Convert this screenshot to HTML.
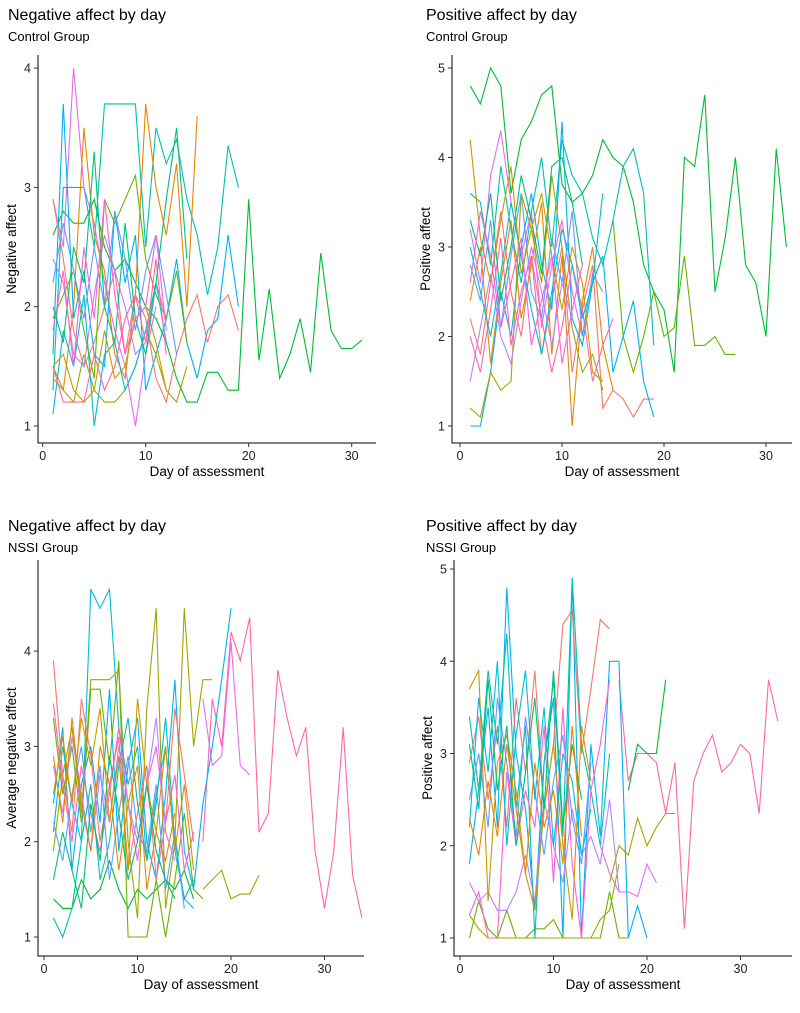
<!DOCTYPE html>
<html><head><meta charset="utf-8"><style>
body{margin:0;background:#fff;font-family:"Liberation Sans",Arial,sans-serif}
svg text{font-family:"Liberation Sans",Arial,sans-serif}
</style></head><body>
<svg id="c" width="800" height="1008" viewBox="0 0 800 1008" xmlns="http://www.w3.org/2000/svg"></svg>
<script>
const palette=["#F8766D","#E58700","#C99800","#A3A500","#6BB100","#00BA38","#00BF7D","#00C0AF","#00BCD8","#00B0F6","#619CFF","#B983FF","#E76BF3","#FD61D1","#FF67A4"];
const xTicks=[0,10,20,30];
const yTicksNeg=[1,2,3,4];
const yTicksPos=[1,2,3,4,5];
const titles=["Negative affect by day","Positive affect by day","Negative affect by day","Positive affect by day"];
const subtitles=["Control Group","Control Group","NSSI Group","NSSI Group"];
const yTitles=["Negative affect","Positive affect","Average negative affect","Positive affect"];
// series: s = start day, v = values, c = palette index
const seriesTL=[
{s:1,c:5,v:[2.6,2.8,2.7,2.7,2.9,2.5,2.3,2.4,2.2,2.0,1.9,1.7,1.4,1.2,1.2,1.45,1.45,1.3,1.3,2.9,1.55,2.15,1.4,1.6,1.9,1.45,2.45,1.8,1.65,1.65,1.72]},
{s:1,c:7,v:[1.3,3.0,3.0,3.0,2.5,3.7,3.7,3.7,3.7,2.5,3.5,3.2,3.4,2.9,2.6,2.1,2.5,3.35,3.0]},
{s:1,c:12,v:[2.9,2.5,4.0,3.0,2.7,2.2,1.8,1.5,1.0,1.6,2.0]},
{s:1,c:1,v:[1.4,1.3,2.0,3.5,2.6,2.3,1.6,1.4,2.1,3.7,3.0,2.6,3.2,2.0,3.6]},
{s:1,c:9,v:[1.6,3.7,1.9,2.3,1.6,1.5,2.8,2.2,2.6,1.3,1.6,1.9,2.4,1.7,1.4,1.8,1.9,2.6,2.0]},
{s:1,c:0,v:[2.9,2.4,1.8,1.5,1.7,2.0,2.3,1.6,2.1,1.9,1.4,1.2,1.6,1.9,2.1,1.7,2.0,2.1,1.8]},
{s:1,c:3,v:[1.5,1.3,1.2,1.6,1.3,1.2,1.2,1.3,1.5,1.8,1.6,1.3,1.2,1.5]},
{s:1,c:11,v:[2.4,2.2,1.6,1.5,2.1,2.6,2.3,2.0,1.6,1.7,2.2,1.9]},
{s:1,c:8,v:[1.1,1.8,1.5,2.1,1.0,1.6,1.7,1.3,1.5,1.8,2.2,1.7]},
{s:1,c:4,v:[1.9,2.1,2.3,1.8,1.4,2.9,2.7,2.9,3.1,2.4,2.1,1.9,2.3,1.7]},
{s:1,c:14,v:[1.5,1.2,1.2,1.2,1.6,1.3,1.5,1.9,2.1,1.7,2.4,1.6]},
{s:1,c:2,v:[1.5,1.6,1.3,1.2,1.3,1.8,1.4,1.5,1.9,2.0,1.7,1.3]},
{s:1,c:10,v:[2.2,2.7,2.3,1.9,2.5,2.0,2.8,2.4,1.8,2.3,2.6,2.1,1.6]},
{s:1,c:6,v:[2.0,1.7,2.5,2.2,3.3,2.0,1.7,2.7,1.9,1.6,2.2,2.9,3.5,2.4]},
{s:1,c:13,v:[1.8,2.3,1.5,2.5,1.9,2.9,2.1,1.6,1.9,2.0,2.6,1.8]}
];
const seriesTR=[
{s:1,c:5,v:[4.8,4.6,5.0,4.8,3.6,4.2,4.4,4.7,4.8,3.7,3.5,3.6,3.8,4.2,4.0,3.9,3.5,2.8,2.5,2.3,1.6,4.0,3.9,4.7,2.5,3.1,4.0,2.8,2.6,2.0,4.1,3.0]},
{s:15,c:4,v:[3.3,2.0,1.6,2.0,2.5,2.0,2.1,2.9,1.9,1.9,2.0,1.8,1.8]},
{s:1,c:7,v:[3.6,3.5,2.8,3.9,3.2,2.6,3.4,4.0,3.0,4.2,3.8,3.6,3.1,2.8,3.3,3.9,4.1,3.6,1.9]},
{s:1,c:0,v:[2.2,1.8,2.6,3.4,2.5,2.0,2.9,1.8,2.4,3.0,1.6,2.3,2.8,1.2,1.4,1.3,1.1,1.3,1.3]},
{s:1,c:9,v:[1.0,1.0,1.6,2.5,2.0,3.0,3.6,2.8,2.3,4.4,2.2,1.9,2.6,2.9,1.6,2.0,2.4,1.5,1.1]},
{s:1,c:12,v:[3.2,2.6,3.8,4.3,3.5,2.9,3.4,2.1,2.8,3.3,2.5,2.0,2.7]},
{s:1,c:1,v:[2.4,3.0,1.7,2.6,3.3,2.2,2.8,3.5,1.8,2.9,1.0,2.4,3.0,1.9,1.4]},
{s:1,c:3,v:[1.2,1.1,1.6,1.4,1.5,3.6,3.2,2.6,3.8,3.0,2.1,1.6,1.8,1.4]},
{s:1,c:10,v:[2.8,2.4,3.3,2.1,2.9,3.6,2.5,2.2,3.1,2.6,3.4,2.0,2.7,2.5]},
{s:1,c:14,v:[2.0,1.6,2.3,3.1,1.9,2.5,2.9,2.2,1.6,2.1,2.8,2.3,1.5,1.9,2.2]},
{s:1,c:6,v:[3.3,2.9,3.6,2.4,3.0,3.8,3.3,2.7,3.9,4.0,3.5,2.8]},
{s:1,c:11,v:[1.5,2.1,2.7,2.0,1.7,2.4,3.0,2.5,1.9,2.6,2.2]},
{s:1,c:8,v:[3.0,2.5,2.0,2.7,3.5,2.9,2.3,1.8,2.5,3.2,2.8,2.2,2.6,3.6]},
{s:1,c:2,v:[4.2,3.1,2.6,3.3,3.9,2.7,3.2,3.6,2.9,2.3,3.0,2.6,1.6,1.5]},
{s:1,c:13,v:[2.6,3.4,2.9,2.1,2.6,3.1,1.9,2.4,2.9,1.7,2.3,2.8]}
];
const seriesBL=[
{s:17,c:14,v:[2.0,3.5,3.0,4.2,3.9,4.35,2.1,2.3,3.8,3.3,2.9,3.2,1.9,1.3,1.9,3.2,1.65,1.2]},
{s:17,c:12,v:[3.5,2.8,2.9,4.1,2.8,2.7]},
{s:17,c:3,v:[1.5,1.6,1.7,1.4,1.45,1.45,1.65]},
{s:1,c:9,v:[2.4,3.2,1.7,2.6,3.0,2.2,3.6,1.9,2.8,3.3,2.0,1.6,2.5,3.7,1.9,1.5,2.4,3.0,3.7,4.45]},
{s:1,c:8,v:[2.1,3.0,2.4,2.0,4.65,4.45,4.65,3.2,2.6,3.0,1.8,2.4,3.3,2.0,1.4,1.3]},
{s:1,c:3,v:[1.9,2.7,3.2,2.3,3.7,3.7,3.7,3.8,2.0,1.2,3.4,4.45,1.3,2.0,4.45,3.0,3.7,3.7]},
{s:1,c:0,v:[3.9,2.7,2.1,3.5,2.9,2.0,2.6,3.1,1.7,2.3,2.8,1.6,2.2,3.4,2.7,2.0]},
{s:1,c:5,v:[1.4,1.3,1.3,1.6,1.4,1.5,1.8,1.5,1.3,1.5,1.4,1.5,1.6,1.5,1.7,1.4]},
{s:1,c:4,v:[3.3,2.5,3.0,2.2,3.6,3.6,2.8,3.9,1.0,1.0,1.0,1.6,1.0,1.6,2.3,1.5,1.4]},
{s:1,c:13,v:[3.45,2.6,2.0,2.8,2.3,1.9,2.5,3.2,2.4,1.8,2.6,3.0,2.2,2.7,1.7,2.1]},
{s:1,c:7,v:[1.2,1.0,1.3,2.0,2.6,1.6,2.0,2.8,3.3,2.4,1.8,2.5,3.0,1.9,1.4,1.6]},
{s:1,c:10,v:[2.2,1.8,2.5,3.0,2.1,2.8,1.6,2.3,2.9,2.1,1.9,2.6,1.5,2.1,1.3]},
{s:1,c:11,v:[2.8,2.3,3.1,2.5,1.9,2.7,2.2,3.0,2.4,2.0,2.6,3.3,2.1,1.8]},
{s:1,c:2,v:[2.5,3.1,2.4,3.3,2.8,3.4,2.2,2.9,1.7,3.5,2.6,2.1,3.0,1.9,2.6,1.7]},
{s:1,c:1,v:[2.9,2.2,3.3,2.4,1.9,3.0,2.6,1.7,2.4,2.8,1.5,2.1,1.8,2.3]},
{s:1,c:6,v:[1.6,2.1,1.7,1.3,2.4,1.8,2.9,2.3,1.6,2.0,2.6,1.9,1.6,1.4]}
];
const seriesBR=[
{s:17,c:14,v:[3.8,2.7,3.0,3.0,2.9,2.35,2.9,1.1,2.7,3.0,3.2,2.8,2.9,3.1,3.0,2.35,3.8,3.35]},
{s:15,c:12,v:[2.0,1.7,1.5,1.5,1.45,1.8,1.6]},
{s:18,c:5,v:[2.6,3.1,3.0,3.0,3.8]},
{s:16,c:3,v:[1.6,2.0,1.9,2.3,2.0,2.2,2.35,2.35]},
{s:1,c:9,v:[1.8,2.6,3.5,2.2,4.8,3.0,2.4,1.3,2.9,3.6,1.0,4.9,1.0,3.1,2.1,4.0,4.0,1.0,1.35,1.0]},
{s:1,c:0,v:[2.9,3.4,2.5,3.3,2.2,3.6,2.8,3.9,2.4,3.1,4.4,4.55,3.0,3.7,4.45,4.35]},
{s:1,c:4,v:[1.0,1.4,1.1,1.0,1.3,1.0,1.0,1.1,1.1,1.2,1.0,1.0,1.0,1.0,1.0,1.5,1.0,1.0]},
{s:1,c:3,v:[1.25,1.1,1.0,1.0,1.0,1.0,1.0,1.0,1.0,1.0,1.0,1.0,1.0,1.0,1.2,1.3,1.8]},
{s:1,c:7,v:[3.4,2.6,3.9,3.1,4.3,2.4,3.3,1.0,2.9,3.8,2.1,4.9,3.1,2.6,2.0,3.0]},
{s:1,c:11,v:[1.6,1.4,1.5,1.3,1.3,1.5,1.9,1.4,2.5,2.0,1.6,2.4,1.9,2.1,1.8,2.5,1.5]},
{s:1,c:13,v:[1.25,1.5,1.0,1.0,2.8,2.0,2.6,2.2,3.3,1.6,3.5,1.8,1.0,2.6,3.1,3.8]},
{s:1,c:2,v:[3.7,3.9,1.4,2.9,3.2,2.6,1.7,1.3,2.4,3.1,2.0,1.2,3.3,2.7]},
{s:1,c:10,v:[2.5,3.0,2.2,3.6,2.9,2.1,3.4,2.6,1.9,2.7,3.2,2.3,1.8,2.9]},
{s:1,c:8,v:[2.2,3.6,2.8,4.0,2.0,3.2,3.9,2.5,3.5,2.0,3.0,2.7,1.9,2.4]},
{s:1,c:6,v:[3.1,2.4,3.8,2.6,3.3,2.0,2.8,3.6,2.4,3.9,2.2,3.1,2.5]},
{s:1,c:1,v:[2.3,1.9,2.7,2.1,3.1,2.4,1.7,2.9,2.2,2.6,1.8,3.3,2.1]}
];
const panels=[
{id:"control-negative",x0:38,y0:443,xz:42.7,xs:10.3,xr:376,y1:426,yp:119.3,ymin:1,top:55,yt:yTicksNeg,data:seriesTL,tx:8,ty:20},
{id:"control-positive",x0:452,y0:443,xz:460,xs:10.2,xr:792,y1:426,yp:89.5,ymin:1,top:55,yt:yTicksPos,data:seriesTR,tx:426,ty:20},
{id:"nssi-negative",x0:38,y0:956,xz:44,xs:9.35,xr:364,y1:937,yp:95.3,ymin:1,top:560,yt:yTicksNeg,data:seriesBL,tx:8,ty:531},
{id:"nssi-positive",x0:454,y0:956,xz:460,xs:9.35,xr:792,y1:938,yp:92.25,ymin:1,top:560,yt:yTicksPos,data:seriesBR,tx:426,ty:531}
];
const svg=document.getElementById('c');
const NS="http://www.w3.org/2000/svg";
function mk(tag,at,parent){const e=document.createElementNS(NS,tag);for(const k in at)e.setAttribute(k,at[k]);(parent||svg).appendChild(e);return e;}
panels.forEach((p,i)=>{
  const g=mk('g',{});
  
  
  const X=d=>p.xz+d*p.xs, Y=v=>p.y1-(v-p.ymin)*p.yp;
  const t=mk('text',{x:p.tx,y:p.ty,'font-size':16,fill:'#000'},g);t.textContent=titles[i];
  
  
  const st=mk('text',{x:p.tx,y:p.ty+21,'font-size':13,fill:'#000'},g);st.textContent=subtitles[i];
  
  
  p.data.forEach(s=>{
    const pts=s.v.map((v,j)=>X(s.s+j).toFixed(1)+','+Y(v).toFixed(1)).join(' ');
    const pl=mk('polyline',{points:pts,fill:'none',stroke:palette[s.c],'stroke-width':1.1},g);
    
    
  });
  mk('line',{x1:p.x0,y1:p.top,x2:p.x0,y2:p.y0+0.5,stroke:'#000','stroke-width':1},g);
  mk('line',{x1:p.x0,y1:p.y0,x2:p.xr,y2:p.y0,stroke:'#000','stroke-width':1},g);
  xTicks.forEach(v=>{
    mk('line',{x1:X(v),y1:p.y0,x2:X(v),y2:p.y0+4,stroke:'#333'},g);
    const tt=mk('text',{x:X(v),y:p.y0+17,'font-size':12.5,'text-anchor':'middle',fill:'#222'},g);tt.textContent=v;
    
    
  });
  p.yt.forEach(v=>{
    mk('line',{x1:p.x0-4,y1:Y(v),x2:p.x0,y2:Y(v),stroke:'#333'},g);
    const tt=mk('text',{x:p.x0-7,y:Y(v)+4.5,'font-size':12.5,'text-anchor':'end',fill:'#222'},g);tt.textContent=v;
    
    
  });
  const xt=mk('text',{x:(p.x0+p.xr)/2,y:p.y0+33,'font-size':13.5,'text-anchor':'middle',fill:'#000'},g);xt.textContent="Day of assessment";
  
  
  const cy=(p.top+p.y0)/2, cx=p.x0-22;
  const yt=mk('text',{x:cx,y:cy,'font-size':13.5,'text-anchor':'middle',fill:'#000',transform:`rotate(-90 ${cx} ${cy})`},g);yt.textContent=yTitles[i];
  
  
});
</script>
</body></html>
